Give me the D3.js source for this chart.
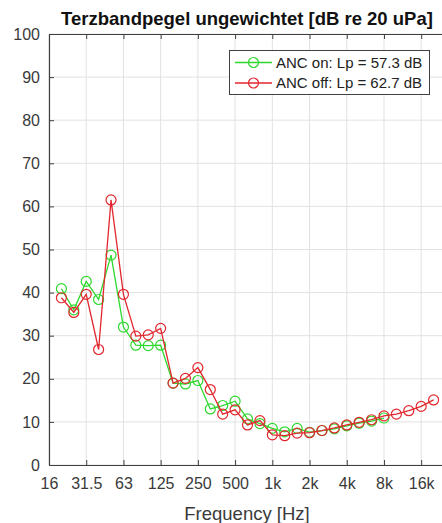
<!DOCTYPE html>
<html>
<head>
<meta charset="utf-8">
<script src="https://cdn.jsdelivr.net/npm/d3@7/dist/d3.min.js"></script>
<style>
  html, body { margin: 0; padding: 0; background: #fff; }
  svg { display: block; font-family: "Liberation Sans", Arial, Helvetica, sans-serif; }
</style>
</head>
<body>
<svg id="chart" width="442" height="523"></svg>
<script>
// Third-octave band centre frequencies (Hz), 16 Hz .. 20 kHz
const bands = ["16","20","25","31.5","40","50","63","80","100","125","160","200","250","315","400","500","630","800","1k","1.25k","1.6k","2k","2.5k","3.15k","4k","5k","6.3k","8k","10k","12.5k","16k","20k"];

// Octave tick labels on the frequency axis
const tickLabels = ["16","31.5","63","125","250","500","1k","2k","4k","8k","16k"];

// Band levels in dB re 20 uPa, starting at the 20 Hz band
const ancOn = [40.9, 36.0, 42.6, 38.4, 48.7, 32.0, 27.8, 27.7, 27.8, 19.0, 18.8, 19.6, 13.0, 13.8, 14.8, 10.7, 9.6, 8.5, 7.7, 8.5, 7.6, 8.0, 8.4, 9.1, 9.7, 10.2, 10.9];
const ancOff = [38.8, 35.4, 39.6, 26.8, 61.5, 39.6, 29.9, 30.2, 31.7, 19.0, 20.1, 22.6, 17.5, 11.8, 12.8, 9.3, 10.3, 7.0, 6.8, 7.4, 7.5, 8.0, 8.6, 9.3, 9.9, 10.5, 11.4, 11.8, 12.6, 13.6, 15.1];

const yTicks = [0, 10, 20, 30, 40, 50, 60, 70, 80, 90, 100];

const series = [
  { name: "ANC on: Lp = 57.3 dB", values: ancOn, color: "#2ed82e" },
  { name: "ANC off: Lp = 62.7 dB", values: ancOff, color: "#e2262e" }
];

const svg = d3.select("#chart");
const margin = { left: 49, top: 34, right: 446, bottom: 465 };

const x = d3.scaleLinear().domain([0, 32]).range([margin.left, margin.right]);
const y = d3.scaleLinear().domain([0, 100]).range([margin.bottom, margin.top]);

const axisColor = "#404040";
const textColor = "#3a3a3a";
const gridColor = "#e2e2e2";

// Grid
const grid = svg.append("g");
tickLabels.forEach((t, i) => {
  grid.append("line")
    .attr("x1", x(i * 3)).attr("x2", x(i * 3))
    .attr("y1", y(0)).attr("y2", y(100))
    .attr("stroke", gridColor).attr("stroke-width", 1);
});
yTicks.forEach(v => {
  grid.append("line")
    .attr("x1", x(0)).attr("x2", x(32))
    .attr("y1", y(v)).attr("y2", y(v))
    .attr("stroke", gridColor).attr("stroke-width", 1);
});

// Axes (ticks point inward, box around the plot)
const xIdx = tickLabels.map((t, i) => i * 3);
const xAxis = d3.axisBottom(x).tickValues(xIdx).tickFormat((d, i) => tickLabels[i]).tickSizeInner(-5).tickSizeOuter(0).tickPadding(13);
const xAxisTop = d3.axisTop(x).tickValues(xIdx).tickFormat("").tickSizeInner(-5).tickSizeOuter(0);
const yAxis = d3.axisLeft(y).tickValues(yTicks).tickSizeInner(-5).tickSizeOuter(0).tickPadding(9);

const gx = svg.append("g").attr("transform", `translate(0,${y(0)})`).call(xAxis);
const gxt = svg.append("g").attr("transform", `translate(0,${y(100)})`).call(xAxisTop);
const gy = svg.append("g").attr("transform", `translate(${x(0)},0)`).call(yAxis);

[gx, gxt, gy].forEach(g => {
  g.select(".domain").attr("stroke", axisColor).attr("stroke-width", 1.2);
  g.selectAll(".tick line").attr("stroke", axisColor).attr("stroke-width", 1);
  g.selectAll(".tick text").attr("fill", textColor).style("font-size", "16px");
});

// Data lines with circle markers
const line = d3.line().x((d, i) => x(i + 1)).y(d => y(d));
series.forEach(s => {
  const g = svg.append("g");
  g.append("path").datum(s.values)
    .attr("d", line).attr("fill", "none")
    .attr("stroke", s.color).attr("stroke-width", 1.3);
  g.selectAll("circle").data(s.values).enter().append("circle")
    .attr("cx", (d, i) => x(i + 1)).attr("cy", d => y(d)).attr("r", 5)
    .attr("fill", "none").attr("stroke", s.color).attr("stroke-width", 1.2);
});

// Title
svg.append("text")
  .attr("x", 247).attr("y", 25)
  .attr("text-anchor", "middle")
  .attr("font-weight", "bold").attr("font-size", 18.5)
  .attr("fill", "#111")
  .text("Terzbandpegel ungewichtet [dB re 20 uPa]");

// X axis label
svg.append("text")
  .attr("x", 247).attr("y", 520)
  .attr("text-anchor", "middle")
  .attr("font-size", 18.5).attr("fill", textColor)
  .text("Frequency [Hz]");

// Legend
const legend = svg.append("g");
legend.append("rect")
  .attr("x", 229.5).attr("y", 50.5).attr("width", 200).attr("height", 44)
  .attr("fill", "#fff").attr("stroke", axisColor).attr("stroke-width", 1);
series.forEach((s, i) => {
  const cy = 62.5 + i * 20.5;
  legend.append("line").attr("x1", 235).attr("x2", 272).attr("y1", cy).attr("y2", cy)
    .attr("stroke", s.color).attr("stroke-width", 1.3);
  legend.append("circle").attr("cx", 253.5).attr("cy", cy).attr("r", 5)
    .attr("fill", "none").attr("stroke", s.color).attr("stroke-width", 1.2);
  legend.append("text").attr("x", 276).attr("y", cy).attr("dy", "0.36em")
    .attr("font-size", 15).attr("fill", "#222").text(s.name);
});
</script>
</body>
</html>
